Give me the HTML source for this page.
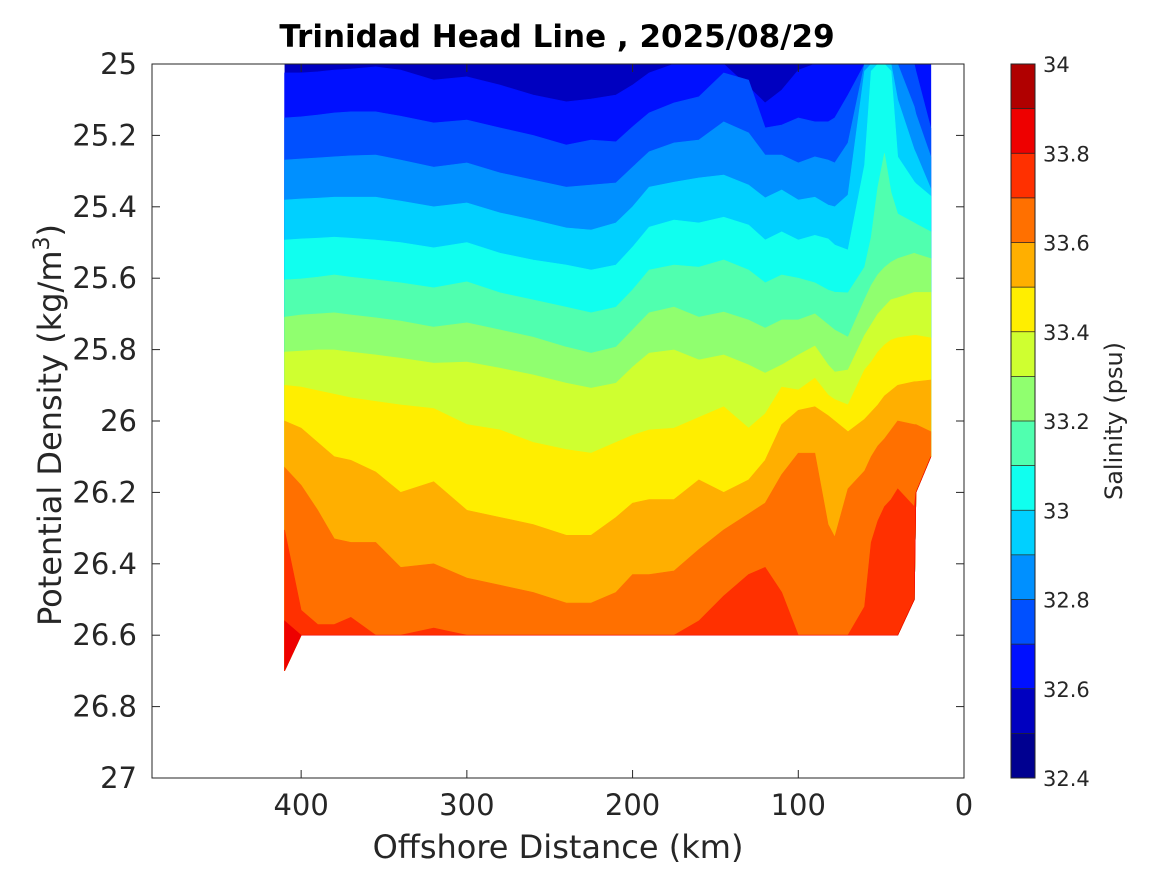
<!DOCTYPE html>
<html><head><meta charset="utf-8"><style>
html,body{margin:0;padding:0;background:#fff;}
svg{display:block;font-family:"DejaVu Sans","Liberation Sans",sans-serif;}
</style></head><body>
<svg id="chart" width="1167" height="875" viewBox="0 0 1167 875" xmlns="http://www.w3.org/2000/svg">
<rect x="0" y="0" width="1167" height="875" fill="#fff"/>
<text x="557" y="47" text-anchor="middle" font-size="31" font-weight="bold" fill="#000">Trinidad Head Line , 2025/08/29</text>
<g id="plot"></g>
<g id="axes"></g>
<g id="cbar"></g>
</svg>
<script>
const stations=[410,400,390,380,370,355,340,320,300,280,260,240,225,210,200,190,175,160,145,130,120,110,100,90,82,78,70,60,56,52,48,44,40,30,29,20];
const bottomDepth=[26.7,26.6,26.6,26.6,26.6,26.6,26.6,26.6,26.6,26.6,26.6,26.6,26.6,26.6,26.6,26.6,26.6,26.6,26.6,26.6,26.6,26.6,26.6,26.6,26.6,26.6,26.6,26.6,26.6,26.6,26.6,26.6,26.6,26.5,26.2,26.1];
const levels=[32.6,32.7,32.8,32.9,33.0,33.1,33.2,33.3,33.4,33.5,33.6,33.7,33.8];
const iso326=[25.025,25.025,25.022,25.017,25.014,25.008,25.017,25.045,25.036,25.059,25.087,25.106,25.098,25.087,25.059,25.025,25,25,25,25.064,25.109,25.073,25.017,25,25,25,25,25,25,25,25,25,25,25,25,25];
const iso327=[25.151,25.148,25.143,25.137,25.134,25.134,25.146,25.165,25.157,25.179,25.2,25.227,25.213,25.218,25.176,25.137,25.109,25.092,25.025,25.045,25.179,25.171,25.151,25.162,25.162,25.151,25.087,25,25,25,25,25,25,25,25.02,25.18];
const iso328=[25.269,25.266,25.263,25.26,25.257,25.255,25.269,25.289,25.277,25.305,25.325,25.345,25.339,25.333,25.289,25.246,25.221,25.213,25.162,25.193,25.255,25.255,25.277,25.26,25.269,25.277,25.221,25,25,25,25,25,25,25.12,25.14,25.26];
const iso329=[25.381,25.378,25.376,25.373,25.373,25.373,25.384,25.4,25.389,25.417,25.437,25.459,25.465,25.445,25.4,25.345,25.331,25.319,25.311,25.339,25.375,25.353,25.381,25.373,25.395,25.4,25.367,25.02,25,25,25,25,25.1,25.24,25.25,25.35];
const iso330=[25.493,25.49,25.488,25.485,25.488,25.493,25.5,25.515,25.5,25.53,25.549,25.563,25.577,25.563,25.513,25.457,25.437,25.445,25.429,25.451,25.493,25.47,25.493,25.48,25.49,25.507,25.521,25.283,25.02,25,25,25.02,25.26,25.33,25.335,25.37];
const iso331=[25.605,25.602,25.597,25.591,25.597,25.605,25.613,25.627,25.61,25.641,25.661,25.681,25.697,25.681,25.633,25.577,25.563,25.569,25.549,25.577,25.613,25.591,25.6,25.613,25.633,25.639,25.641,25.569,25.485,25.345,25.25,25.36,25.42,25.445,25.448,25.47];
const iso332=[25.709,25.703,25.7,25.697,25.703,25.711,25.72,25.737,25.725,25.745,25.765,25.793,25.81,25.793,25.745,25.697,25.681,25.709,25.695,25.717,25.74,25.717,25.717,25.7,25.73,25.745,25.765,25.66,25.62,25.59,25.57,25.555,25.545,25.53,25.532,25.545];
const iso333=[25.807,25.804,25.801,25.801,25.807,25.815,25.824,25.838,25.835,25.852,25.871,25.894,25.908,25.894,25.849,25.81,25.801,25.829,25.815,25.843,25.866,25.843,25.815,25.79,25.843,25.863,25.857,25.76,25.73,25.7,25.68,25.66,25.655,25.64,25.64,25.64];
const iso334=[25.9,25.905,25.915,25.925,25.935,25.945,25.955,25.965,26.01,26.025,26.06,26.08,26.09,26.06,26.04,26.025,26.02,25.99,25.96,26.02,25.98,25.905,25.913,25.88,25.927,25.94,25.955,25.857,25.835,25.807,25.787,25.773,25.767,25.76,25.76,25.767];
const iso335=[26.0,26.02,26.06,26.1,26.11,26.143,26.2,26.17,26.25,26.27,26.29,26.32,26.32,26.27,26.23,26.22,26.22,26.165,26.2,26.165,26.11,26.01,25.97,25.96,25.985,26.0,26.03,25.995,25.975,25.955,25.93,25.915,25.9,25.89,25.89,25.885];
const iso336=[26.13,26.18,26.25,26.33,26.34,26.34,26.41,26.4,26.44,26.46,26.48,26.51,26.51,26.48,26.43,26.43,26.42,26.36,26.305,26.26,26.23,26.15,26.09,26.09,26.29,26.325,26.19,26.14,26.1,26.07,26.05,26.025,26.0,26.01,26.01,26.03];
const iso337=[26.305,26.53,26.57,26.57,26.55,26.6,26.62,26.58,26.61,26.65,26.65,26.65,26.65,26.65,26.65,26.65,26.62,26.56,26.49,26.43,26.41,26.48,26.6,26.65,26.65,26.65,26.62,26.52,26.34,26.28,26.24,26.22,26.19,26.24,26.25,26.3];
const iso338=[26.56,26.63,26.7,26.7,26.7,26.7,26.7,26.7,26.7,26.7,26.7,26.7,26.7,26.7,26.7,26.7,26.7,26.7,26.7,26.7,26.7,26.7,26.7,26.7,26.7,26.7,26.7,26.7,26.7,26.7,26.7,26.7,26.7,26.7,26.7,26.7];
const isolines=[iso326,iso327,iso328,iso329,iso330,iso331,iso332,iso333,iso334,iso335,iso336,iso337,iso338];
const cbTicks=[32.4,32.6,32.8,33,33.2,33.4,33.6,33.8,34];
const xTicks=[400,300,200,100,0];
const yTicks=[25,25.2,25.4,25.6,25.8,26,26.2,26.4,26.6,26.8,27];
const bandColors=["#000090","#0000c0","#0010ff","#0050ff","#0090ff","#00d0ff","#10ffef","#50ffaf","#90ff6f","#cfff30","#ffee00","#ffaf00","#ff7000","#ff3000","#ee0000","#b00000"];

const NS="http://www.w3.org/2000/svg";
const L=152,R=964,T=64,B=778;
const xMax=490,xMin=0,yMin=25,yMax=27;
function sx(km){return R-(km-xMin)/(xMax-xMin)*(R-L);}
function sy(d){return T+(d-yMin)/(yMax-yMin)*(B-T);}
function mk(tag,attrs,parent){const e=document.createElementNS(NS,tag);for(const k in attrs)e.setAttribute(k,attrs[k]);parent.appendChild(e);return e;}

const plot=document.getElementById('plot');
let regionPts=stations.map(s=>sx(s)+','+sy(25));
for(let i=stations.length-1;i>=0;i--)regionPts.push(sx(stations[i])+','+sy(bottomDepth[i]));
const base=mk('polygon',{points:regionPts.join(' '),fill:bandColors[1]},plot);


levels.forEach((lv,li)=>{
  const arr=isolines[li];
  const pts=[];
  stations.forEach((s,i)=>{const d=Math.min(Math.max(arr[i],25),bottomDepth[i]);pts.push(sx(s)+','+sy(d));});
  for(let i=stations.length-1;i>=0;i--)pts.push(sx(stations[i])+','+sy(bottomDepth[i]));
  const p=mk('polygon',{points:pts.join(' '),fill:bandColors[li+2],stroke:bandColors[li+2],'stroke-width':0.6},plot);
  
  
});

const ax=document.getElementById('axes');
const frame=mk('rect',{x:L,y:T,width:R-L,height:B-T,fill:'none',stroke:'#262626','stroke-width':1},ax);


yTicks.forEach(v=>{
  const y=sy(v);
  mk('line',{x1:L,y1:y,x2:L+8,y2:y,stroke:'#262626'},ax);
  mk('line',{x1:R,y1:y,x2:R-8,y2:y,stroke:'#262626'},ax);
  const t=mk('text',{x:L-15,y:y+10,'text-anchor':'end','font-size':29,fill:'#262626'},ax);
  t.textContent=String(v);
  
  
});
xTicks.forEach(v=>{
  const x=sx(v);
  mk('line',{x1:x,y1:B,x2:x,y2:B-8,stroke:'#262626'},ax);
  mk('line',{x1:x,y1:T,x2:x,y2:T+8,stroke:'#262626'},ax);
  const t=mk('text',{x:x,y:815,'text-anchor':'middle','font-size':29,fill:'#262626'},ax);
  t.textContent=String(v);
  
  
});
const xl=mk('text',{x:558,y:858,'text-anchor':'middle','font-size':32,fill:'#262626'},ax);
xl.textContent='Offshore Distance (km)';


const yl=mk('text',{x:0,y:0,'text-anchor':'middle','font-size':32,fill:'#262626',transform:'translate(61,425) rotate(-90)'},ax);
yl.innerHTML='Potential Density (kg/m<tspan dy="-12" font-size="22">3</tspan><tspan dy="12">)</tspan>';



const cb=document.getElementById('cbar');
const cL=1011,cR=1035;
function cy(v){return B-(v-32.4)/(34-32.4)*(B-T);}
bandColors.forEach((c,i)=>{
  const v0=32.4+i*0.1;
  const r=mk('rect',{x:cL,y:cy(v0+0.1),width:cR-cL,height:cy(v0)-cy(v0+0.1)+0.5,fill:c},cb);
  
  
});
for(let i=1;i<16;i++){const y=cy(32.4+i*0.1);mk('line',{x1:cL,y1:y,x2:cR,y2:y,stroke:'#262626','stroke-width':0.8},cb);}
const cf=mk('rect',{x:cL,y:T,width:cR-cL,height:B-T,fill:'none',stroke:'#262626'},cb);


cbTicks.forEach(v=>{
  const t=mk('text',{x:1043,y:cy(v)+8,'font-size':21,fill:'#262626'},cb);
  t.textContent=(Math.round(v*10)/10).toString();
  
  
});
const cbl=mk('text',{x:0,y:0,'text-anchor':'middle','font-size':24,fill:'#262626',transform:'translate(1122,421) rotate(-90)'},cb);
cbl.textContent='Salinity (psu)';


</script>
</body></html>
